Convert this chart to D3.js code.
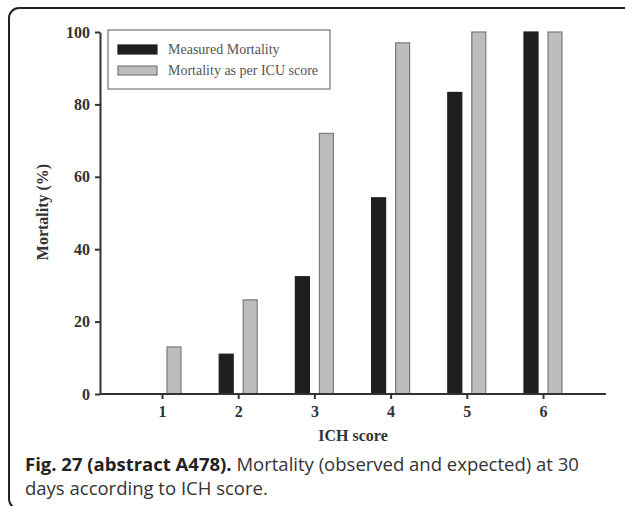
<!DOCTYPE html>
<html>
<head>
<meta charset="utf-8">
<script src="https://cdn.jsdelivr.net/npm/d3@7"></script>
<style>
  html, body { margin: 0; padding: 0; background: #fff; }
  svg { display: block; }
</style>
</head>
<body>
<script>
// ---- Data ----
const categories = ["1", "2", "3", "4", "5", "6"];
const seriesNames = ["Measured Mortality", "Mortality as per ICU score"];
const measured = [0, 11, 32.4, 54.2, 83.3, 100];
const predicted = [13, 26, 72, 97, 100, 100];
const yTicks = [0, 20, 40, 60, 80, 100];

const W = 625, H = 506;
const svg = d3.select("body").append("svg").attr("width", W).attr("height", H);

// outer rounded frame (bottom and right edges fall outside the view)
svg.append("rect")
  .attr("x", 9).attr("y", 8).attr("width", 640).attr("height", 501)
  .attr("rx", 10).attr("ry", 10)
  .attr("fill", "none").attr("stroke", "#222").attr("stroke-width", 2);

const x = d3.scalePoint().domain(categories).range([162, 543]);
const xs = d3.scaleBand().domain(seriesNames).range([-19, 19]).paddingInner(0.417).paddingOuter(0);
const y = d3.scaleLinear().domain([0, 100]).range([394, 32]);

const colors = { "Measured Mortality": "#1f1f1f", "Mortality as per ICU score": "#bdbdbd" };
const strokes = { "Measured Mortality": "#1f1f1f", "Mortality as per ICU score": "#7a7a7a" };

const rows = categories.map((c, i) => ({ c, vals: [measured[i], predicted[i]] }));

const g = svg.append("g");
rows.forEach(r => {
  r.vals.forEach((v, j) => {
    const s = seriesNames[j];
    if (v <= 0) return;
    g.append("rect")
      .attr("x", x(r.c) + xs(s))
      .attr("y", y(v))
      .attr("width", xs.bandwidth())
      .attr("height", y(0) - y(v))
      .attr("fill", colors[s])
      .attr("stroke", strokes[s])
      .attr("stroke-width", 1.2);
  });
});

// Y axis
const yAxis = svg.append("g").attr("transform", "translate(100,0)")
  .call(d3.axisLeft(y).tickValues(yTicks).tickSize(5).tickPadding(5).tickSizeOuter(0));
yAxis.select(".domain").attr("stroke", "#333").attr("stroke-width", 2);
yAxis.selectAll(".tick line").attr("stroke", "#333").attr("stroke-width", 2);
yAxis.selectAll("text")
  .attr("font-family", "'Liberation Serif', 'Times New Roman', serif")
  .attr("font-weight", "bold").attr("font-size", 16).attr("fill", "#333");

// X axis
const xAxis = svg.append("g").attr("transform", "translate(0,394)")
  .call(d3.axisBottom(x).tickSize(5).tickPadding(7).tickSizeOuter(0));
xAxis.select(".domain").attr("d", "M100,0H606").attr("stroke", "#333").attr("stroke-width", 2);
xAxis.selectAll(".tick line").attr("stroke", "#333").attr("stroke-width", 2);
xAxis.selectAll("text")
  .attr("font-family", "'Liberation Serif', 'Times New Roman', serif")
  .attr("font-weight", "bold").attr("font-size", 16).attr("fill", "#333");

// Axis titles
svg.append("text")
  .attr("x", 353).attr("y", 441).attr("text-anchor", "middle")
  .attr("font-family", "'Liberation Serif', 'Times New Roman', serif")
  .attr("font-weight", "bold").attr("font-size", 16).attr("fill", "#333")
  .text("ICH score");

svg.append("text")
  .attr("transform", "translate(48,212) rotate(-90)")
  .attr("text-anchor", "middle")
  .attr("font-family", "'Liberation Serif', 'Times New Roman', serif")
  .attr("font-weight", "bold").attr("font-size", 16).attr("fill", "#333")
  .text("Mortality (%)");

// Legend
const lg = svg.append("g");
lg.append("rect").attr("x", 108).attr("y", 30).attr("width", 222).attr("height", 59)
  .attr("fill", "#fff").attr("stroke", "#777").attr("stroke-width", 1.2);
seriesNames.forEach((s, i) => {
  const yy = 45 + i * 21;
  lg.append("rect").attr("x", 118).attr("y", yy).attr("width", 39).attr("height", 9)
    .attr("fill", colors[s]).attr("stroke", strokes[s]).attr("stroke-width", 1.2);
  lg.append("text").attr("x", 168).attr("y", yy + 9)
    .attr("font-family", "'Liberation Serif', 'Times New Roman', serif")
    .attr("font-size", 14).attr("fill", "#555")
    .text(s);
});

// Caption
const cap = svg.append("text")
  .attr("x", 25).attr("y", 471)
  .attr("font-family", "'Open Sans', sans-serif").attr("font-size", 18.5).attr("fill", "#333");
cap.append("tspan").attr("font-weight", "bold").attr("fill", "#222").text("Fig. 27 (abstract A478).");
cap.append("tspan").text(" Mortality (observed and expected) at 30");
svg.append("text")
  .attr("x", 25).attr("y", 495)
  .attr("font-family", "'Open Sans', sans-serif").attr("font-size", 18.5).attr("fill", "#333")
  .text("days according to ICH score.");
</script>
</body>
</html>
